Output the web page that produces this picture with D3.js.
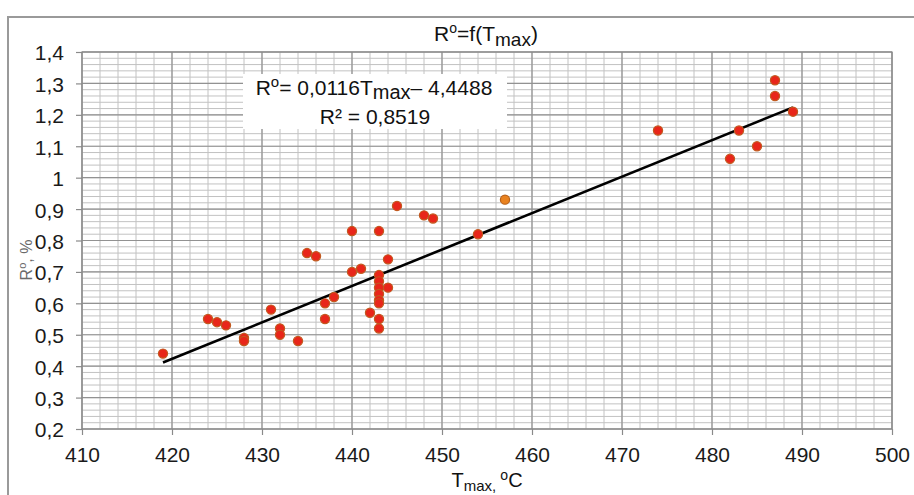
<!DOCTYPE html>
<html>
<head>
<meta charset="utf-8">
<script src="https://d3js.org/d3.v7.min.js"></script>
<style>
  body { margin: 0; background: #fff; }
  text { font-family: "Liberation Sans", Arial, sans-serif; }
</style>
</head>
<body>
<svg width="914" height="495"></svg>
<script>
// data: Tmax (ºC) and Rº (%)
const tmax = [419, 424, 425, 426, 428, 428, 431, 432, 432, 434, 435, 436, 437, 437, 438,
              440, 440, 441, 442, 443, 443, 443, 443, 443, 443, 443, 443, 443, 444, 444,
              445, 448, 449, 454, 474, 482, 483, 485, 487, 487, 489];
const ro   = [0.44, 0.55, 0.54, 0.53, 0.49, 0.48, 0.58, 0.52, 0.50, 0.48, 0.76, 0.75, 0.60, 0.55, 0.62,
              0.83, 0.70, 0.71, 0.57, 0.83, 0.69, 0.67, 0.65, 0.63, 0.61, 0.60, 0.55, 0.52, 0.74, 0.65,
              0.91, 0.88, 0.87, 0.82, 1.15, 1.06, 1.15, 1.10, 1.31, 1.26, 1.21];
// the one orange point
const hiTmax = [457];
const hiRo   = [0.93];

const xTicks = [410, 420, 430, 440, 450, 460, 470, 480, 490, 500];
const yTicks = [0.2, 0.3, 0.4, 0.5, 0.6, 0.7, 0.8, 0.9, 1, 1.1, 1.2, 1.3, 1.4];

// trend line Rº = a*Tmax + b
const slope = 0.0116, intercept = -4.4488;

const svg = d3.select("svg"),
  margin = {top: 52, left: 82},
  width = 810,
  height = 377,
  g = svg.append("g").attr("transform", "translate(" + margin.left + "," + margin.top + ")");

// outer chart frame
svg.append("rect")
  .attr("x", 8).attr("y", 17).attr("width", 920).attr("height", 500)
  .attr("fill", "none").attr("stroke", "#9a9a9a").attr("stroke-width", 2);

let x = d3.scaleLinear().domain([410, 500]).range([0, width]),
    y = d3.scaleLinear().domain([0.2, 1.4]).range([height, 0]);

// minor grid
g.selectAll(".vminor").data(d3.range(410, 501, 2)).enter().append("line")
  .attr("x1", d => x(d)).attr("x2", d => x(d)).attr("y1", 0).attr("y2", height)
  .attr("stroke", "#c2c2c2").attr("stroke-width", 1);
g.selectAll(".hminor").data(d3.range(0, 61).map(i => 0.2 + i * 0.02)).enter().append("line")
  .attr("y1", d => y(d)).attr("y2", d => y(d)).attr("x1", 0).attr("x2", width)
  .attr("stroke", "#c2c2c2").attr("stroke-width", 1);

// major grid
g.selectAll(".vmajor").data(xTicks).enter().append("line")
  .attr("x1", d => x(d)).attr("x2", d => x(d)).attr("y1", 0).attr("y2", height)
  .attr("stroke", "#929292").attr("stroke-width", 1.2);
g.selectAll(".hmajor").data(yTicks).enter().append("line")
  .attr("y1", d => y(d)).attr("y2", d => y(d)).attr("x1", 0).attr("x2", width)
  .attr("stroke", "#929292").attr("stroke-width", 1.2);

// plot border
g.append("rect").attr("width", width).attr("height", height)
  .attr("fill", "none").attr("stroke", "#8a8a8a").attr("stroke-width", 1.2);

// axes
let fmt = d => String(d).replace(".", ",");
let xAxis = g.append("g")
  .attr("transform", "translate(0," + height + ")")
  .call(d3.axisBottom(x).tickValues(xTicks).tickSize(6).tickPadding(12).tickFormat(fmt));
let yAxis = g.append("g")
  .call(d3.axisLeft(y).tickValues(yTicks).tickSize(6).tickPadding(12).tickFormat(fmt));
[xAxis, yAxis].forEach(a => {
  a.select(".domain").remove();
  a.selectAll(".tick line").attr("stroke", "#8a8a8a").attr("stroke-width", 1.2);
  a.selectAll(".tick text").attr("fill", "#1a1a1a").style("font-size", "21px")
    .style("font-family", "'Liberation Sans', Arial, sans-serif");
});
yAxis.selectAll(".tick text").attr("dy", "0.38em");

// trend line
let tr = d3.extent(tmax.concat(hiTmax));
g.append("line")
  .attr("x1", x(tr[0])).attr("y1", y(slope * tr[0] + intercept))
  .attr("x2", x(tr[1])).attr("y2", y(slope * tr[1] + intercept))
  .attr("stroke", "#000").attr("stroke-width", 2.6);

// points
g.selectAll(".pt").data(d3.range(tmax.length)).enter().append("circle")
  .attr("cx", i => x(tmax[i])).attr("cy", i => y(ro[i])).attr("r", 4.6)
  .attr("fill", "#e8261a").attr("stroke", "#c25a1f").attr("stroke-width", 1.2);
g.selectAll(".hi").data(d3.range(hiTmax.length)).enter().append("circle")
  .attr("cx", i => x(hiTmax[i])).attr("cy", i => y(hiRo[i])).attr("r", 4.6)
  .attr("fill", "#e9821f").attr("stroke", "#b8621a").attr("stroke-width", 1.2);

// equation box
svg.append("rect").attr("x", 243).attr("y", 74).attr("width", 264).attr("height", 55)
  .attr("fill", "#fff");
let eq = svg.append("text").attr("x", 374).attr("y", 95).attr("text-anchor", "middle")
  .attr("fill", "#111").style("font-size", "21px");
eq.append("tspan").text("R");
eq.append("tspan").attr("dy", -8).style("font-size", "15px").text("o");
eq.append("tspan").attr("dy", 8).text("= 0,0116T");
eq.append("tspan").attr("dy", 4).style("font-size", "20px").text("max");
eq.append("tspan").attr("dy", -4).text("\u2013 4,4488");
svg.append("text").attr("x", 375).attr("y", 124).attr("text-anchor", "middle")
  .attr("fill", "#111").style("font-size", "21px").text("R\u00b2 = 0,8519");

// title
let title = svg.append("text").attr("x", 486).attr("y", 41).attr("text-anchor", "middle")
  .attr("fill", "#111").style("font-size", "21px");
title.append("tspan").text("R");
title.append("tspan").attr("dy", -8).style("font-size", "14px").text("o");
title.append("tspan").attr("dy", 8).text("=f(T");
title.append("tspan").attr("dy", 5).style("font-size", "19px").text("max");
title.append("tspan").attr("dy", -5).text(")");

// x axis title (cut at the bottom edge, as in the source)
let xt = svg.append("text").attr("x", 487).attr("y", 487).attr("text-anchor", "middle")
  .attr("fill", "#111").style("font-size", "20px");
xt.append("tspan").text("T");
xt.append("tspan").attr("dy", 4).style("font-size", "15px").text("max, ");
xt.append("tspan").attr("dy", -11).style("font-size", "14px").text("o");
xt.append("tspan").attr("dy", 7).text("C");

// y axis title
let yt = svg.append("text").attr("transform", "translate(32,260) rotate(-90)")
  .attr("text-anchor", "middle").attr("fill", "#6a6a6a").style("font-size", "16px");
yt.append("tspan").text("R");
yt.append("tspan").attr("dy", -6).style("font-size", "11px").text("o");
yt.append("tspan").attr("dy", 6).text(", %");
</script>
</body>
</html>
